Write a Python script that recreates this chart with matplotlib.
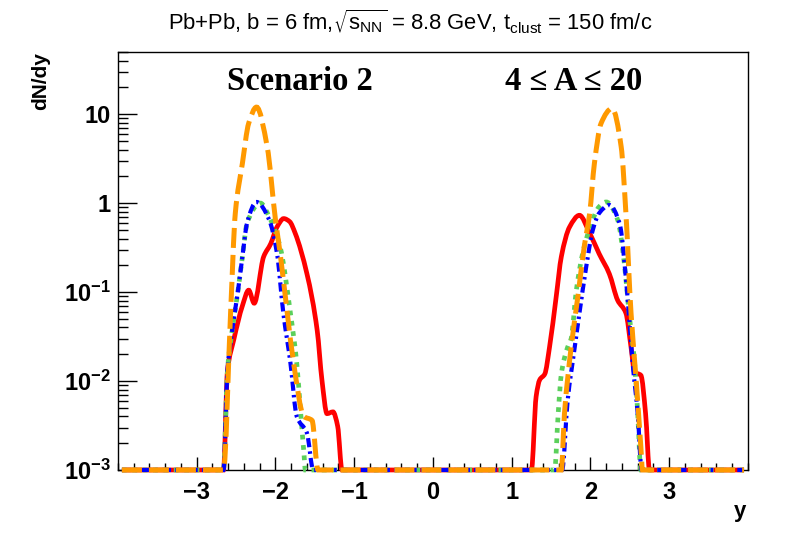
import numpy as np
import matplotlib
matplotlib.use('Agg')
from matplotlib import pyplot as plt
from matplotlib.path import Path
from matplotlib.patches import PathPatch
from matplotlib.ticker import FixedLocator, FuncFormatter, MultipleLocator, LogLocator, NullFormatter

plt.rcParams['font.family'] = ['Liberation Sans', 'DejaVu Sans']
plt.rcParams['mathtext.default'] = 'regular'

# rapidity distributions (zero = empty bin, drawn on the floor)
y_red = [-3.95, -2.66, -2.61, -2.53, -2.42, -2.34, -2.27, -2.15, -2.06, -1.98, -1.895, -1.82, -1.75,
         -1.60, -1.47, -1.41, -1.345, -1.27, -1.21, -1.155, 1.25, 1.31, 1.355, 1.42, 1.48, 1.565,
         1.63, 1.735, 1.86, 1.99, 2.11, 2.24, 2.345, 2.45, 2.515, 2.56, 2.64, 2.70, 2.75, 3.95]
n_red = [0, 0, 0.013, 0.029, 0.07, 0.105, 0.075, 0.25, 0.35, 0.54, 0.67, 0.62, 0.46,
         0.16, 0.037, 0.0103, 0.0043, 0.0045, 0.0031, 0, 0, 0.0067, 0.0103, 0.012, 0.024, 0.089,
         0.25, 0.54, 0.73, 0.46, 0.27, 0.16, 0.081, 0.058, 0.024, 0.0126, 0.0116, 0.0043, 0, 0]

y_green = [-3.95, -2.66, -2.61, -2.55, -2.48, -2.42, -2.36, -2.19, -2.08, -1.94, -1.81, -1.73, -1.68,
           -1.64, -1.62, 1.545, 1.59, 1.63, 1.71, 1.755, 1.82, 1.90, 2.01, 2.11, 2.2, 2.345, 2.43,
           2.49, 2.56, 2.60, 2.64, 3.95]
n_green = [0, 0, 0.013, 0.037, 0.097, 0.25, 0.6, 1.0, 0.7, 0.32, 0.058, 0.016, 0.0044,
           0.0016, 0, 0, 0.0043, 0.012, 0.024, 0.03, 0.104, 0.27, 0.59, 0.91, 1.03, 0.65, 0.21,
           0.058, 0.016, 0.0043, 0, 0]

y_blue = [-3.95, -2.66, -2.61, -2.55, -2.48, -2.42, -2.36, -2.24, -2.08, -1.98, -1.90, -1.81, -1.73,
          -1.60, -1.52, 1.64, 1.71, 1.80, 1.86, 1.945, 2.03, 2.11, 2.24, 2.37, 2.47, 2.535, 2.60,
          2.65, 3.95]
n_blue = [0, 0, 0.013, 0.037, 0.097, 0.25, 0.6, 1.03, 0.65, 0.27, 0.058, 0.016, 0.004,
          0.0026, 0, 0, 0.006, 0.024, 0.058, 0.19, 0.5, 0.77, 0.95, 0.59, 0.089, 0.016, 0.0043,
          0, 0]

y_orange = [-3.95, -2.66, -2.57, -2.51, -2.42, -2.34, -2.24, -2.105, -2.0, -1.94, -1.85, -1.77,
            -1.64, -1.535, -1.46, 1.63, 1.67, 1.755, 1.84, 1.92, 1.99, 2.05, 2.135, 2.275, 2.39,
            2.45, 2.515, 2.58, 2.64, 2.66, 3.95]
n_orange = [0, 0, 0.058, 0.77, 2.8, 7.9, 12.0, 4.3, 0.65, 0.27, 0.058, 0.016,
            0.004, 0.0036, 0, 0, 0.0043, 0.024, 0.089, 0.32, 0.77, 2.8, 7.9, 11.6, 4.3,
            0.77, 0.058, 0.0103, 0.0018, 0, 0]

ymin, ymax = 1e-3, 50.0


def smooth_path(xs, ns):
    # monotone cubic (Fritsch-Carlson) through the points, done in log10 space,
    # handed to matplotlib as bezier segments (like ROOT's "C" draw option)
    x = np.asarray(xs, dtype=float)
    ly = np.log10(np.clip(np.asarray(ns, dtype=float), ymin, None))
    h = np.diff(x)
    d = np.diff(ly) / h
    m = np.zeros_like(x)
    m[0], m[-1] = d[0], d[-1]
    for k in range(1, len(x) - 1):
        if d[k - 1] * d[k] > 0:
            w1 = 2 * h[k] + h[k - 1]
            w2 = h[k] + 2 * h[k - 1]
            m[k] = (w1 + w2) / (w1 / d[k - 1] + w2 / d[k])
    verts = [(x[0], ly[0])]
    codes = [Path.MOVETO]
    for k in range(len(x) - 1):
        verts += [(x[k] + h[k] / 3, ly[k] + m[k] * h[k] / 3),
                  (x[k + 1] - h[k] / 3, ly[k + 1] - m[k + 1] * h[k] / 3),
                  (x[k + 1], ly[k + 1])]
        codes += [Path.CURVE4] * 3
    verts = np.array(verts)
    verts[:, 1] = 10 ** verts[:, 1]
    return Path(verts, codes)


fig = plt.figure(figsize=(7.88, 5.34), dpi=100)
ax = fig.add_axes([0.1497, 0.1199, 0.7995, 0.7827])
ax.set_yscale('log')
ax.set_xlim(-4, 4)
ax.set_ylim(ymin, ymax)

styles = [
    (y_red, n_red, dict(edgecolor='#ff0000', lw=3.4, ls='-', zorder=3)),
    (y_green, n_green, dict(edgecolor='#5bd05b', lw=3.4, ls=(0, (1.0, 1.2)), capstyle='butt', zorder=4)),
    (y_blue, n_blue, dict(edgecolor='#0000ff', lw=3.0, ls=(0, (2.2, 1.0, 0.6, 1.0)), capstyle='butt', zorder=5)),
    (y_orange, n_orange, dict(edgecolor='#ff9900', lw=3.6, ls=(0, (4.0, 1.4)), capstyle='butt', zorder=6)),
]
for xs, ns, kw in styles:
    ax.add_patch(PathPatch(smooth_path(xs, ns), fill=False, clip_on=False, **kw))

ax.xaxis.set_major_locator(FixedLocator([-3, -2, -1, 0, 1, 2, 3]))
ax.xaxis.set_minor_locator(MultipleLocator(0.2))
ax.yaxis.set_major_locator(LogLocator(base=10, numticks=10))
ax.yaxis.set_minor_locator(LogLocator(base=10, subs=np.arange(2, 10), numticks=10))
ax.yaxis.set_minor_formatter(NullFormatter())


def ylab(v, pos):
    if 0.99 < v < 1.01:
        return '1'
    if 9.9 < v < 10.1:
        return '10'
    return '$10^{%d}$' % int(round(np.log10(v)))


def xlab(v, pos):
    if abs(v) < 1e-9:
        return '0'
    return ('%d' % v).replace('-', '\u2212')


ax.yaxis.set_major_formatter(FuncFormatter(ylab))
ax.xaxis.set_major_formatter(FuncFormatter(xlab))

ax.tick_params(which='both', direction='in', top=False, right=False, labelsize=17, width=1.0)
ax.tick_params(axis='y', which='major', length=13.5, pad=5.5)
ax.tick_params(axis='y', which='minor', length=7)
ax.tick_params(axis='x', which='major', length=9.5, pad=8)
ax.tick_params(axis='x', which='minor', length=5)
for lab in ax.get_xticklabels() + ax.get_yticklabels():
    lab.set_fontweight('bold')
for sp in ax.spines.values():
    sp.set_linewidth(1.0)

ax.set_ylabel('dN/dy', fontsize=15, fontweight='bold', loc='top')
ax.yaxis.set_label_coords(-0.108, 1.0)
ax.set_xlabel('y', fontsize=16, fontweight='bold', loc='right')
ax.xaxis.set_label_coords(0.997, -0.075)

ax.text(0.289, 0.93, 'Scenario 2', transform=ax.transAxes, ha='center', va='center',
        fontsize=23.5, fontweight='bold', family='Liberation Serif')
ax.text(0.724, 0.93, '4 \u2264 A \u2264 20', transform=ax.transAxes, ha='center', va='center',
        fontsize=23.5, fontweight='bold', family='Liberation Serif')

fig.text(0.52, 0.96, r'Pb+Pb, b = 6 fm,$\sqrt{s_{NN}}$ = 8.8 GeV, t$_{clust}$ = 150 fm/c',
         ha='center', va='center', fontsize=15.8)

fig.savefig('out.png', dpi=100)
